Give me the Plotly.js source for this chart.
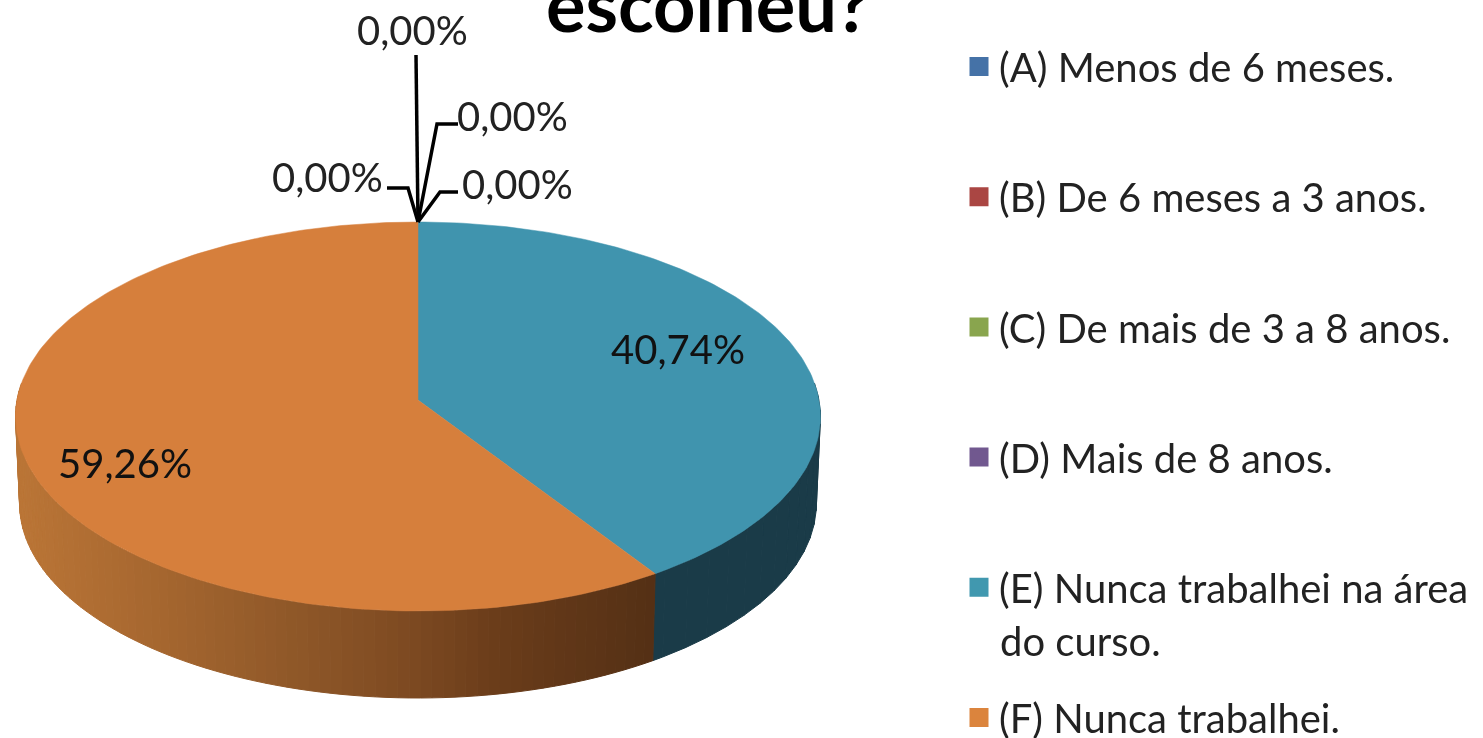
<!DOCTYPE html>
<html><head><meta charset="utf-8">
<script src="https://cdn.plot.ly/plotly-3.0.1.min.js"></script>
<style>html,body{margin:0;padding:0;background:#fff;overflow:hidden}#chart{width:1483px;height:738px;filter:blur(0.5px)}</style>
</head><body><div id="chart"></div>
<script>
// ---- data ----
const categories = ['(A) Menos de 6 meses.','(B) De 6 meses a 3 anos.','(C) De mais de 3 a 8 anos.','(D) Mais de 8 anos.','(E) Nunca trabalhei na área','(F) Nunca trabalhei.'];
const categoryContinuation = 'do curso.';
const percentValues = [0, 0, 0, 0, 40.74, 59.26];
const legendColors = ['#4572a7','#aa4643','#89a54e','#71588f','#4198af','#db843d'];
const topColors    = ['#4572a7','#aa4643','#89a54e','#71588f','#4094ae','#d67f3c'];
const chartTitle = 'escolheu?';

// ---- styling / geometry constants ----
const FONT = 'Lato, Carlito, Calibri, sans-serif';
const CX = 418, CY = 400, RX = 401, RY = 193.1, PERSP = -0.0848, DEPTH = 87, BOTTOM_SCALE = 0.99;
const sideBlue = '#1a3b48';
const orangeStops = [[20,[186,117,54]],[160,[165,102,47]],[300,[142,87,40]],[400,[127,75,34]],[500,[106,60,26]],[655,[84,48,21]]];

function project(angleDeg, bottom) {
  const t = angleDeg * Math.PI / 180, u = Math.sin(t), v = -Math.cos(t), d = 1 + PERSP * v;
  let x = CX + RX * u / d, y = CY + RY * v / d;
  if (bottom) { x = CX + BOTTOM_SCALE * (x - CX); y += DEPTH; }
  return [x, y];
}
function orangeAt(x) {
  let a = orangeStops[0], b = orangeStops[orangeStops.length - 1];
  if (x <= a[0]) return 'rgb(' + a[1].join(',') + ')';
  for (let i = 0; i < orangeStops.length - 1; i++) {
    if (x >= orangeStops[i][0] && x <= orangeStops[i + 1][0]) { a = orangeStops[i]; b = orangeStops[i + 1]; break; }
  }
  const f = Math.min(1, (x - a[0]) / (b[0] - a[0]));
  return 'rgb(' + a[1].map((c, i) => Math.round(c + (b[1][i] - c) * f)).join(',') + ')';
}

const total = percentValues.reduce((s, v) => s + v, 0);
const traces = [];

// side wall strips, from the slice angles
let cum = 0;
const eEnd = (percentValues[0] + percentValues[1] + percentValues[2] + percentValues[3] + percentValues[4]) / total * 360;
function strip(a0, a1, color) {
  const p = [project(a0), project(a1), project(a1, true), project(a0, true), project(a0)];
  traces.push({ type:'scatter', mode:'lines', x:p.map(q=>q[0]), y:p.map(q=>q[1]), fill:'toself', fillcolor:color,
    line:{color:color,width:1}, showlegend:false, hoverinfo:'skip' });
}
for (let a = 85; a < eEnd; a += 4) strip(a, Math.min(a + 4, eEnd), sideBlue);
for (let a = eEnd; a < 275; a += 1.5) {
  const a1 = Math.min(a + 1.5, 275);
  strip(a, a1, orangeAt(project((a + a1) / 2)[0]));
}

// top surface slices
percentValues.forEach((v, i) => {
  const a0 = cum / total * 360, a1 = (cum + v) / total * 360;
  cum += v;
  const xs = [CX], ys = [CY];
  const n = Math.max(1, Math.ceil((a1 - a0) / 1));
  for (let k = 0; k <= n; k++) { const p = project(a0 + (a1 - a0) * k / n); xs.push(p[0]); ys.push(p[1]); }
  xs.push(CX); ys.push(CY);
  traces.push({ type:'scatter', mode:'lines', x:xs, y:ys, fill:'toself', fillcolor:topColors[i],
    line:{color:topColors[i],width:0.5}, name:categories[i], showlegend:false,
    hoverinfo:'name' });
});

// leader lines for the zero slices
const apex = project(0);
const leaderPaths = [
  [[416,55]],
  [[458,124],[437,124]],
  [[458,192],[440,192]],
  [[387,188],[408,188]]
];
leaderPaths.forEach(path => {
  const pts = path.concat([apex]);
  traces.push({ type:'scatter', mode:'lines', x:pts.map(q=>q[0]), y:pts.map(q=>q[1]),
    line:{color:'#000',width:3.5}, showlegend:false, hoverinfo:'skip' });
});

// legend entries
categories.forEach((c, i) => {
  traces.push({ type:'scatter', mode:'markers', x:[null], y:[null], name:c, legendgroup:'g'+i,
    marker:{symbol:'square', size:16, color:legendColors[i], line:{color:legendColors[i], width:3}}, hoverinfo:'skip' });
});

const fmt = v => v.toFixed(2).replace('.', ',') + '%';
const labelPos = [[327,177],[412,30],[512,116],[517,184],[678,349],[125,463]];
const labelOrder = [3,0,1,2,4,5]; // zero slices: which value each position shows
const annotations = labelPos.map((p, i) => ({
  x:p[0], y:p[1], xref:'x', yref:'y', text:fmt(percentValues[labelOrder[i]]), showarrow:false,
  font:{family:FONT, size:40, color:i>3?'#111':'#222'}, xanchor:'center', yanchor:'middle'
}));
annotations.push({ x:998, y:641, xref:'x', yref:'y', text:categoryContinuation, showarrow:false,
  font:{family:FONT, size:40, color:'#222'}, xanchor:'left', yanchor:'middle' });

const layout = {
  width:1483, height:738, margin:{l:0,r:0,t:0,b:0,autoexpand:false}, paper_bgcolor:'#fff', plot_bgcolor:'#fff',
  xaxis:{range:[0,1483], visible:false, fixedrange:true},
  yaxis:{range:[738,0], visible:false, fixedrange:true},
  title:{text:chartTitle, font:{family:FONT, size:74, weight:700, color:'#000'}, x:708/1483, xanchor:'center', xref:'container', yref:'container', y:0.992, yanchor:'middle', automargin:false},
  showlegend:true,
  legend:{x:959/1483, xanchor:'left', y:1-34/738, yanchor:'top', tracegroupgap:75.2, bgcolor:'rgba(0,0,0,0)',
    font:{family:FONT, size:40, color:'#222'}, itemclick:false, itemdoubleclick:false},
  annotations:annotations
};
Plotly.newPlot('chart', traces, layout, {displayModeBar:false});
</script></body></html>
